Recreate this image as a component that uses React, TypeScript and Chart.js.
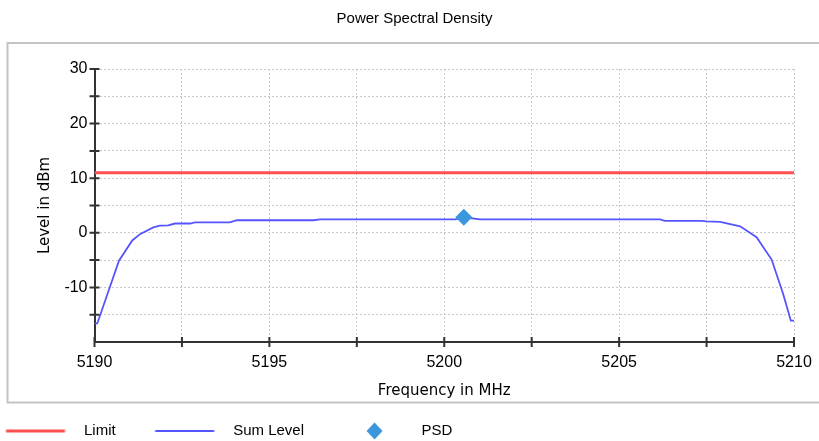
import React, { useEffect, useRef } from 'react';
import { Chart, registerables } from 'chart.js';

Chart.register(...registerables);

// ---- text ----
const chartTitle = 'Power Spectral Density';
const xAxisTitle = 'Frequency in MHz';
const yAxisTitle = 'Level in dBm';
const legendLabels = ['Limit', 'Sum Level', 'PSD'];

// ---- data ----
const limitFreqs = [5190, 5210];
const limitLevels = [11, 11];

const sumFreqs = [
  5190.0, 5190.08, 5190.7, 5191.08, 5191.3, 5191.68, 5191.87, 5192.11, 5192.3, 5192.73,
  5192.87, 5193.87, 5194.07, 5196.26, 5196.45, 5200.33, 5200.56, 5201.02, 5206.17, 5206.31,
  5207.36, 5207.5, 5207.89, 5208.46, 5208.93, 5209.36, 5209.69, 5209.91, 5210.0,
];
const sumLevels = [
  -16.6, -16.6, -5.1, -1.4, -0.25, 1.0, 1.3, 1.35, 1.7, 1.7,
  1.9, 1.9, 2.3, 2.3, 2.45, 2.45, 2.85, 2.45, 2.45, 2.2,
  2.2, 2.1, 2.0, 1.2, -0.8, -4.9, -11.2, -16.1, -16.1,
];

const psdFreqs = [5200.56];
const psdLevels = [2.85];

// ---- axes ----
const xMin = 5190;
const xMax = 5210;
const xStep = 2.5;
const xLabelEvery = 5;
const yMin = -20;
const yMax = 30;
const yStep = 5;
const yLabelEvery = 10;

const limitColor = '#ff5050';
const sumColor = '#5555ff';
const psdColor = '#3c96dc';

const toPoints = (xs: number[], ys: number[]) => xs.map((x, i) => ({ x, y: ys[i] }));

function legendImage(kind: 'line' | 'diamond', color: string, lw: number) {
  const c = document.createElement('canvas');
  c.width = 100;
  c.height = 20;
  const g = c.getContext('2d')!;
  if (kind === 'line') {
    g.strokeStyle = color;
    g.lineWidth = lw;
    g.beginPath();
    g.moveTo(29.5, 10);
    g.lineTo(88.5, 10);
    g.stroke();
  } else {
    g.fillStyle = color;
    g.beginPath();
    g.moveTo(60.5, 1.5);
    g.lineTo(68.5, 10);
    g.lineTo(60.5, 18.5);
    g.lineTo(52.5, 10);
    g.closePath();
    g.fill();
  }
  return c;
}

const frameAndTicks = {
  id: 'frameAndTicks',
  afterLayout(chart: any) {
    const lg = chart.legend;
    if (lg) {
      lg.left -= 33.5;
      lg.right -= 33.5;
      lg.top += 7.5;
      lg.bottom += 7.5;
    }
    const tb = chart.titleBlock;
    if (tb) {
      tb.left += 5;
      tb.right += 5;
    }
  },
  beforeDraw(chart: any) {
    const { ctx, chartArea } = chart;
    ctx.save();
    ctx.strokeStyle = '#c4c4c4';
    ctx.lineWidth = 2;
    const x0 = chartArea.left - 87;
    const y0 = chartArea.top - 26;
    const y1 = chartArea.bottom + 60.5;
    ctx.strokeRect(x0, y0, chart.width + 20, y1 - y0);
    ctx.restore();
  },
  afterDraw(chart: any) {
    const { ctx, chartArea, scales } = chart;
    ctx.save();
    ctx.strokeStyle = '#333';
    ctx.lineWidth = 2;
    ctx.beginPath();
    scales.x.ticks.forEach((t: any) => {
      const px = scales.x.getPixelForValue(t.value);
      ctx.moveTo(px, chartArea.bottom - 5);
      ctx.lineTo(px, chartArea.bottom + 5);
    });
    scales.y.ticks.forEach((t: any) => {
      if (t.value === yMin) return;
      const py = scales.y.getPixelForValue(t.value);
      ctx.moveTo(chartArea.left - 5, py);
      ctx.lineTo(chartArea.left + 5, py);
    });
    ctx.stroke();
    ctx.restore();
  },
};

export default function App() {
  const ref = useRef<HTMLCanvasElement | null>(null);

  useEffect(() => {
    if (!ref.current) return;
    const legendImgs = [
      legendImage('line', limitColor, 3),
      legendImage('line', sumColor, 2),
      legendImage('diamond', psdColor, 0),
    ];
    const gridStyle = {
      color: '#c8c8c8',
      lineWidth: 1,
      drawTicks: false,
    };
    const borderStyle = { display: true, color: '#333', width: 2, dash: [2, 2] };
    const chart = new Chart(ref.current, {
      type: 'line',
      plugins: [frameAndTicks],
      data: {
        datasets: [
          {
            label: legendLabels[0],
            data: toPoints(limitFreqs, limitLevels),
            borderColor: limitColor,
            backgroundColor: limitColor,
            borderWidth: 3,
            pointRadius: 0,
            tension: 0,
            order: 3,
          },
          {
            label: legendLabels[1],
            data: toPoints(sumFreqs, sumLevels),
            borderColor: sumColor,
            backgroundColor: sumColor,
            borderWidth: 1.8,
            pointRadius: 0,
            tension: 0,
            order: 2,
          },
          {
            label: legendLabels[2],
            data: toPoints(psdFreqs, psdLevels),
            showLine: false,
            pointStyle: 'rectRot',
            pointRadius: 8.5,
            pointBorderWidth: 0,
            backgroundColor: psdColor,
            borderColor: psdColor,
            order: 1,
          },
        ],
      },
      options: {
        animation: false,
        responsive: false,
        devicePixelRatio: 1,
        layout: { padding: 0 },
        font: { family: '"Liberation Sans", Arial, sans-serif' },
        plugins: {
          tooltip: { enabled: false },
          title: {
            display: true,
            text: chartTitle,
            color: '#000',
            font: { family: '"Liberation Sans", Arial, sans-serif', size: 15, weight: 'normal' },
            padding: { top: 9.5, bottom: 41.5 },
          },
          legend: {
            display: true,
            position: 'bottom',
            align: 'start',
            labels: {
              usePointStyle: true,
              pointStyleWidth: 100,
              padding: 10,
              color: '#000',
              font: { family: '"Liberation Sans", Arial, sans-serif', size: 15 },
              generateLabels: () =>
                legendLabels.map((text, i) => ({
                  text,
                  pointStyle: legendImgs[i] as any,
                  fillStyle: 'transparent',
                  strokeStyle: 'transparent',
                  lineWidth: 0,
                  hidden: false,
                  datasetIndex: i,
                  fontColor: '#000',
                })),
            },
          },
        },
        scales: {
          x: {
            type: 'linear',
            min: xMin,
            max: xMax,
            afterFit: (s: any) => {
              s.height = 64;
              s.paddingRight = 25;
            },
            grid: gridStyle,
            border: borderStyle,
            ticks: {
              stepSize: xStep,
              autoSkip: false,
              maxRotation: 0,
              padding: 11,
              color: '#000',
              font: { family: '"Liberation Sans", Arial, sans-serif', size: 16 },
              callback: (v: any) => (Math.abs(Number(v) % xLabelEvery) < 1e-6 ? String(v) : ''),
            },
            title: {
              display: true,
              text: xAxisTitle,
              color: '#000',
              font: { family: '"DejaVu Sans", sans-serif', size: 15 },
              padding: { top: 0, bottom: 6 },
            },
          },
          y: {
            type: 'linear',
            min: yMin,
            max: yMax,
            afterFit: (s: any) => {
              s.width = 94.5;
            },
            grid: gridStyle,
            border: borderStyle,
            ticks: {
              stepSize: yStep,
              autoSkip: false,
              padding: 7,
              color: '#000',
              font: { family: '"Liberation Sans", Arial, sans-serif', size: 16 },
              callback: (v: any) => (Number(v) % yLabelEvery === 0 && Number(v) !== yMin ? String(v) : ''),
            },
            title: {
              display: true,
              text: yAxisTitle,
              color: '#000',
              font: { family: '"DejaVu Sans", sans-serif', size: 15 },
              padding: { top: 36, bottom: 0 },
            },
          },
        },
      },
    } as any);
    return () => chart.destroy();
  }, []);

  return (
    <div style={{ position: 'absolute', left: 0, top: 0, width: 819, height: 441, overflow: 'hidden', background: '#fff' }}>
      <canvas ref={ref} width={819} height={441} style={{ display: 'block' }} />
    </div>
  );
}
